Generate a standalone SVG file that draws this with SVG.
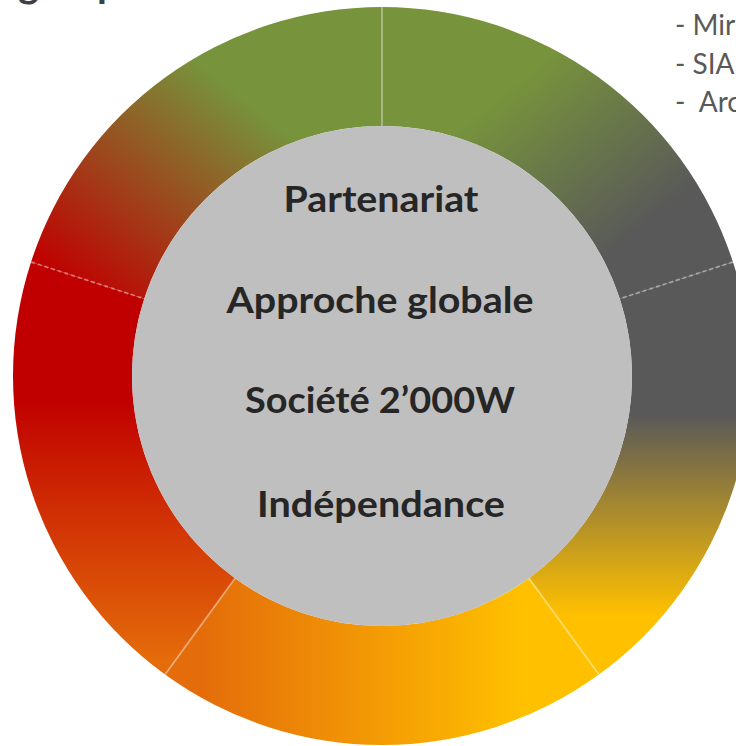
<svg xmlns="http://www.w3.org/2000/svg" width="736" height="746" viewBox="0 0 736 746">
  <style>
    .ctr { font-family: Lato, "Open Sans", "Liberation Sans", sans-serif; font-weight: bold; font-size: 36px; fill: #262626; text-anchor: middle; }
    .note { font-family: Lato, "Open Sans", "Liberation Sans", sans-serif; font-size: 28px; fill: #595959; }
    .title { font-family: Lato, "Open Sans", "Liberation Sans", sans-serif; font-weight: bold; font-size: 40px; fill: #404040; }
    .div { stroke: #ffffff; stroke-opacity: 0.35; stroke-width: 2; fill: none; }
    .dash { stroke-dasharray: 4 3; }
  </style>
  <defs>
    <linearGradient id="g1" gradientUnits="userSpaceOnUse" x1="520" y1="80" x2="640" y2="230">
      <stop offset="0" stop-color="#77933C"/>
      <stop offset="1" stop-color="#595959"/>
    </linearGradient>
    <linearGradient id="g2" gradientUnits="userSpaceOnUse" x1="0" y1="415" x2="0" y2="615">
      <stop offset="0" stop-color="#595959"/>
      <stop offset="1" stop-color="#FFC000"/>
    </linearGradient>
    <linearGradient id="g3" gradientUnits="userSpaceOnUse" x1="200" y1="0" x2="520" y2="0">
      <stop offset="0" stop-color="#E46C0A"/>
      <stop offset="1" stop-color="#FFC000"/>
    </linearGradient>
    <linearGradient id="g4" gradientUnits="userSpaceOnUse" x1="0" y1="400" x2="0" y2="660">
      <stop offset="0" stop-color="#C00000"/>
      <stop offset="1" stop-color="#E46C0A"/>
    </linearGradient>
    <linearGradient id="g5" gradientUnits="userSpaceOnUse" x1="60" y1="280" x2="220" y2="80">
      <stop offset="0" stop-color="#C00000"/>
      <stop offset="1" stop-color="#77933C"/>
    </linearGradient>
  </defs>
  <rect x="0" y="0" width="736" height="746" fill="#ffffff"/>

  <g id="title">
    <text class="title" x="18" y="-3">g</text>
    <text class="title" x="97" y="-3">p</text>
  </g>

  <g id="notes">
    <text class="note" x="675" y="35">- Mir</text>
    <text class="note" x="675" y="74">- SIA</text>
    <text class="note" x="675" y="112" xml:space="preserve">-  Arc</text>
  </g>

  <g id="ring">
    <path id="seg-top" fill="url(#g1)" d="M382 7 A369 369 0 0 1 732.94 261.97 L619.76 298.75 A250 250 0 0 0 382 126 Z"/>
    <path id="seg-right" fill="url(#g2)" d="M732.94 261.97 A369 369 0 0 1 598.89 674.53 L528.95 578.25 A250 250 0 0 0 619.76 298.75 Z"/>
    <path id="seg-bottom" fill="url(#g3)" d="M598.89 674.53 A369 369 0 0 1 165.11 674.53 L235.05 578.25 A250 250 0 0 0 528.95 578.25 Z"/>
    <path id="seg-bottomleft" fill="url(#g4)" d="M165.11 674.53 A369 369 0 0 1 31.06 261.97 L144.24 298.75 A250 250 0 0 0 235.05 578.25 Z"/>
    <path id="seg-topleft" fill="url(#g5)" d="M31.06 261.97 A369 369 0 0 1 382 7 L382 126 A250 250 0 0 0 144.24 298.75 Z"/>
  </g>

  <g id="dividers">
    <line class="div" x1="382" y1="7" x2="382" y2="126"/>
    <line class="div dash" x1="732.94" y1="261.97" x2="619.76" y2="298.75"/>
    <line class="div" x1="598.89" y1="674.53" x2="528.95" y2="578.25"/>
    <line class="div" x1="165.11" y1="674.53" x2="235.05" y2="578.25"/>
    <line class="div dash" x1="31.06" y1="261.97" x2="144.24" y2="298.75"/>
  </g>

  <g id="center">
    <circle cx="382" cy="376" r="250" fill="#BFBFBF"/>
    <text class="ctr" x="381" y="212" textLength="195" lengthAdjust="spacingAndGlyphs">Partenariat</text>
    <text class="ctr" x="380" y="313" textLength="307" lengthAdjust="spacingAndGlyphs">Approche globale</text>
    <text class="ctr" x="380" y="413" textLength="270" lengthAdjust="spacingAndGlyphs">Société 2’000W</text>
    <text class="ctr" x="381" y="517" textLength="248" lengthAdjust="spacingAndGlyphs">Indépendance</text>
  </g>
</svg>
